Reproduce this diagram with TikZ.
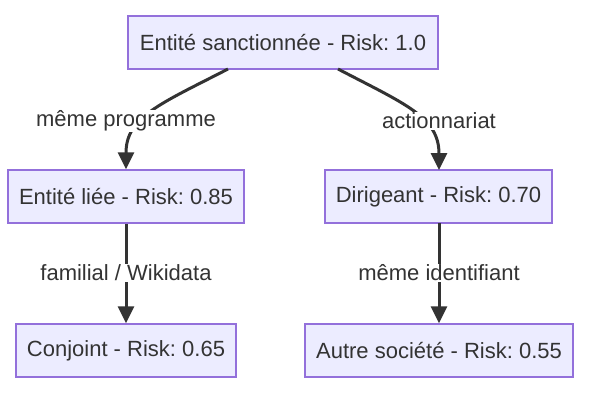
\documentclass[tikz,border=0pt]{standalone}
\usepackage{fontspec}
\setmainfont{Liberation Sans}
\usetikzlibrary{arrows.meta}
\definecolor{nodefill}{HTML}{ECECFF}
\definecolor{nodeline}{HTML}{9370DB}
\definecolor{ink}{HTML}{333333}
\frenchspacing
\begin{document}
\begin{tikzpicture}[x=1pt,y=-1pt,
  box/.style={draw=nodeline,fill=nodefill,line width=1.5pt,minimum height=53pt,
    inner sep=0pt,text=ink,font=\fontsize{22}{26}\selectfont},
  elabel/.style={fill=white,inner sep=1pt,text=ink,font=\fontsize{22}{26}\selectfont},
  edge/.style={draw=ink,line width=3pt,-{Triangle[length=17pt,width=16pt]}}]
\useasboundingbox[fill=white] (0,0) rectangle (593,396);
\node[box,minimum width=310pt] (top) at (283,42.5) {Entité sanctionnée - Risk: 1.0};
\node[box,minimum width=236pt] (liee) at (126,196.5) {Entité liée - Risk: 0.85};
\node[box,minimum width=227pt] (dir) at (438.5,196.5) {Dirigeant - Risk: 0.70};
\node[box,minimum width=220pt] (conj) at (126,350.5) {Conjoint - Risk: 0.65};
\node[box,minimum width=268pt] (autre) at (439,350.5) {Autre société - Risk: 0.55};
\coordinate (tl) at (228,69);
\coordinate (tr) at (338,69);
\draw[edge] (tl) .. controls (160,104) and (126,117) .. (liee.north);
\draw[edge] (tr) .. controls (405,104) and (439,117) .. (439,170);
\draw[edge] (liee.south) -- (conj.north);
\draw[edge] (439,223) -- (autre.north);
\node[elabel] (l1) at (126,121) {même programme};
\node[elabel] (l2) at (439,121) {actionnariat};
\node[elabel] (l3) at (126,273) {familial / Wikidata};
\node[elabel] (l4) at (439,273) {même identifiant};
\end{tikzpicture}
\end{document}
